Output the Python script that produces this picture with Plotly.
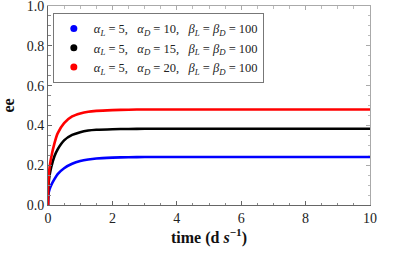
import plotly.graph_objects as go

time = [0, 0.005, 0.02, 0.05, 0.1, 0.2, 0.3, 0.5, 0.75, 1.0, 1.25, 1.5, 2, 2.5, 3, 4, 6, 8, 10]
ee_blue = [0, 0.03, 0.06, 0.08, 0.10, 0.13, 0.155, 0.185, 0.207, 0.221, 0.229, 0.234, 0.238, 0.240, 0.241, 0.241, 0.241, 0.241, 0.241]
ee_black = [0, 0.06, 0.11, 0.15, 0.19, 0.245, 0.28, 0.325, 0.352, 0.366, 0.374, 0.378, 0.381, 0.382, 0.383, 0.383, 0.383, 0.383, 0.383]
ee_red = [0, 0.08, 0.14, 0.19, 0.24, 0.31, 0.36, 0.412, 0.445, 0.46, 0.469, 0.473, 0.477, 0.479, 0.48, 0.48, 0.48, 0.48, 0.48]

labels = [
    "<i>α<sub>L</sub></i> = 5,   <i>α<sub>D</sub></i> = 10,   <i>β<sub>L</sub></i> = <i>β<sub>D</sub></i> = 100",
    "<i>α<sub>L</sub></i> = 5,   <i>α<sub>D</sub></i> = 15,   <i>β<sub>L</sub></i> = <i>β<sub>D</sub></i> = 100",
    "<i>α<sub>L</sub></i> = 5,   <i>α<sub>D</sub></i> = 20,   <i>β<sub>L</sub></i> = <i>β<sub>D</sub></i> = 100",
]
colors = ["#0000ff", "#000000", "#ff0000"]
series = [ee_blue, ee_black, ee_red]

FONT = "'Liberation Serif', 'DejaVu Serif', serif"

fig = go.Figure()
for ys, c, lab in zip(series, colors, labels):
    fig.add_trace(go.Scatter(x=time, y=ys, mode="lines", line=dict(color=c, width=2.6, shape="spline", smoothing=0.6),
                             showlegend=False, legendgroup=lab, hoverinfo="skip"))
for c, lab in zip(colors, labels):
    fig.add_trace(go.Scatter(x=[None], y=[None], mode="markers", marker=dict(color=c, size=7),
                             name=lab, legendgroup=lab))

fig.add_trace(go.Scatter(x=[None], y=[None], xaxis="x2", yaxis="y2", showlegend=False))

axis_common = dict(ticks="inside", ticklen=4, tickwidth=1, showgrid=False, zeroline=False,
                   showline=True, linewidth=1, automargin=False, ticklabeloverflow="allow",
                   tickfont=dict(family=FONT, size=14, color="#222"))

fig.update_layout(
    width=407, height=253,
    margin=dict(l=48, r=37, t=6, b=48),
    paper_bgcolor="white", plot_bgcolor="white",
    font=dict(family=FONT, color="#111"),
    xaxis=dict(range=[0, 10], tickmode="linear", tick0=0, dtick=2, linecolor="#666", tickcolor="#666",
               minor=dict(dtick=0.5, ticks="inside", ticklen=2.5, tickcolor="#888"),
               title=dict(text="<b>time (d <i>s</i><sup>−1</sup>)</b>", font=dict(family=FONT, size=16), standoff=6),
               **axis_common),
    yaxis=dict(range=[0, 1.0001], tickmode="linear", tick0=0, dtick=0.2, tickformat=".1f",
               linecolor="#666", tickcolor="#666",
               minor=dict(dtick=0.05, ticks="inside", ticklen=2.5, tickcolor="#888"),
               title=dict(text="<b>ee</b>", font=dict(family=FONT, size=16), standoff=8),
               **axis_common),
    xaxis2=dict(overlaying="x", side="top", matches="x", tickmode="linear", tick0=0, dtick=2,
                showticklabels=False, ticks="inside", ticklen=4, tickcolor="#aaa", showline=True,
                linecolor="#aaa", linewidth=1, showgrid=False, zeroline=False, automargin=False,
                minor=dict(dtick=0.5, ticks="inside", ticklen=2.5, tickcolor="#bbb")),
    yaxis2=dict(overlaying="y", side="right", matches="y", tickmode="linear", tick0=0, dtick=0.2,
                showticklabels=False, ticks="inside", ticklen=4, tickcolor="#aaa", showline=True,
                linecolor="#aaa", linewidth=1, showgrid=False, zeroline=False, automargin=False,
                minor=dict(dtick=0.05, ticks="inside", ticklen=2.5, tickcolor="#bbb")),
    legend=dict(x=0.015, y=0.965, xanchor="left", yanchor="top",
                bgcolor="white", bordercolor="#777", borderwidth=1,
                font=dict(family=FONT, size=12.5, color="#222"),
                itemwidth=30, tracegroupgap=0),
)

fig.write_html("out.html", config={"displayModeBar": False},
               post_script="document.body.style.margin='0';")
